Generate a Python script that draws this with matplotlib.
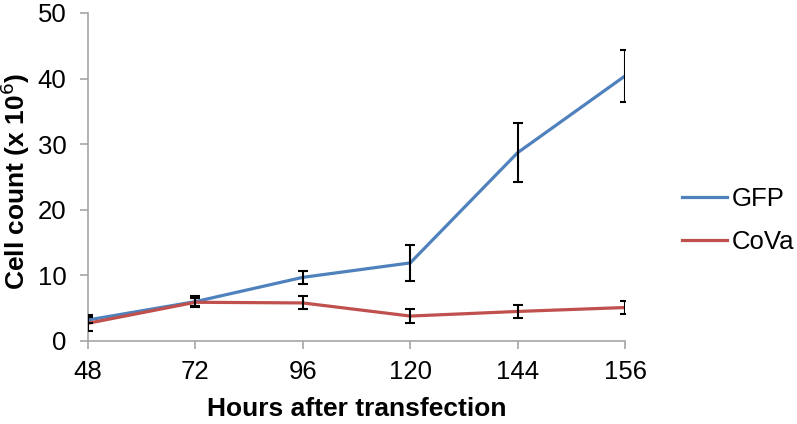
import matplotlib
matplotlib.use('Agg')
import matplotlib.pyplot as plt
import numpy as np

plt.rc('font', family='Liberation Sans', size=19)

hours = ['48', '72', '96', '120', '144', '156']
gfp = [3.2, 6.0, 9.7, 11.9, 28.7, 40.4]
gfp_err = [0.5, 0.8, 1.0, 2.7, 4.5, 3.9]
cova = [2.7, 5.9, 5.8, 3.8, 4.5, 5.1]
cova_err = [1.2, 0.6, 1.0, 1.0, 1.0, 1.0]

blue = '#4F81BD'
red = '#C0504D'
gray = '#A6A6A6'

fig = plt.figure(figsize=(7.97, 4.24), dpi=100)
ax = fig.add_axes([0.1104, 0.1958, 0.6738, 0.7736])

x = np.arange(len(hours))

l1, = ax.plot(x, gfp, color=blue, linewidth=2.3, zorder=3)
l2, = ax.plot(x, cova, color=red, linewidth=2.3, zorder=3)
ax.errorbar(x, gfp, yerr=gfp_err, fmt='none', ecolor='black', elinewidth=1.5,
            capsize=3.5, capthick=1.5, zorder=4)
ax.errorbar(x, cova, yerr=cova_err, fmt='none', ecolor='black', elinewidth=1.5,
            capsize=3.5, capthick=1.5, zorder=4)

ax.set_xlim(0, len(hours) - 1)
ax.set_ylim(0, 50)
ax.set_xticks(x)
ax.set_xticklabels(hours)
ax.set_yticks([0, 10, 20, 30, 40, 50])

for s in ['top', 'right']:
    ax.spines[s].set_visible(False)
for s in ['left', 'bottom']:
    ax.spines[s].set_color(gray)
    ax.spines[s].set_linewidth(1.2)
ax.tick_params(axis='both', direction='out', length=5.5, width=1.2, color=gray,
               labelsize=18.5)
ax.tick_params(axis='x', pad=8)
ax.tick_params(axis='y', pad=10)

ax.set_xlabel('Hours after transfection', fontweight='bold', fontsize=19)
ax.set_ylabel('Cell count (x 10$^6$)', fontweight='bold', fontsize=19)
ax.xaxis.set_label_coords(0.5, -0.17)
ax.yaxis.set_label_coords(-0.104, 0.485)

fig.legend((l1, l2), ('GFP', 'CoVa'), loc='center left',
           bbox_to_anchor=(0.856, 0.481), frameon=False, handlelength=1.76,
           handletextpad=0.15, labelspacing=0.74, fontsize=18.5,
           borderpad=0, borderaxespad=0)

fig.savefig('out.png', dpi=100)
